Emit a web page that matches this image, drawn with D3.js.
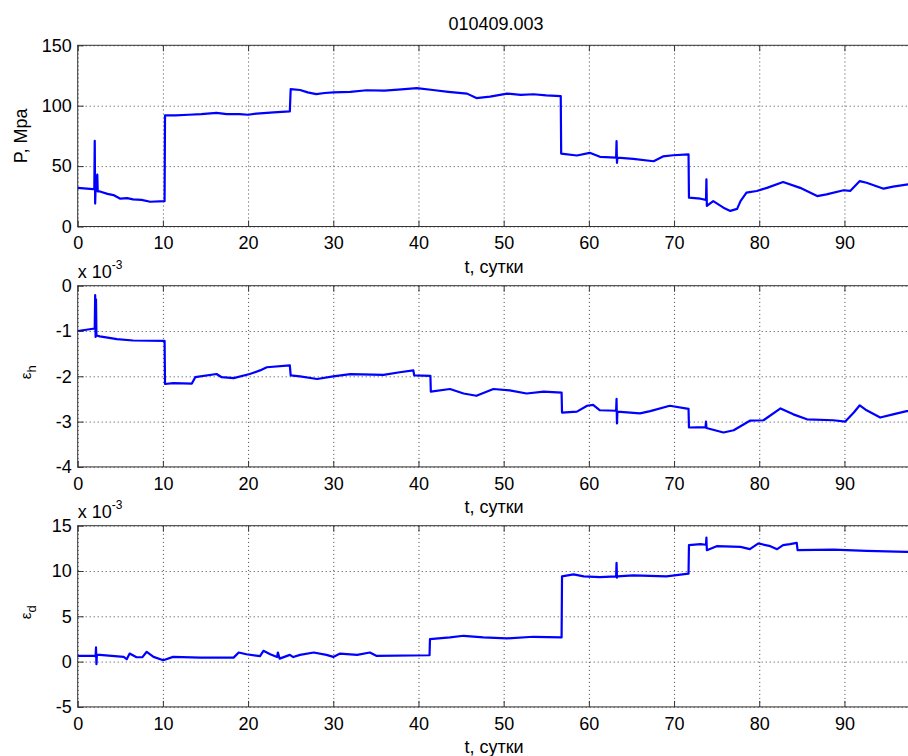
<!DOCTYPE html>
<html>
<head>
<meta charset="utf-8">
<script src="https://cdn.jsdelivr.net/npm/d3@7"></script>
<style>
  body { margin: 0; background: #fff; }
  svg { display: block; font-family: "Liberation Sans", Arial, sans-serif; }
  .tick text { font-size: 18px; fill: #000; }
  .grid line { stroke: #444; stroke-dasharray: 1,3; }
</style>
</head>
<body>
<svg id="fig"></svg>
<script>
// DATA (t in days)
const title = "010409.003";
const xTicks = [0, 10, 20, 30, 40, 50, 60, 70, 80, 90];
const pTicks = [0, 50, 100, 150];
const ehTicks = [-4, -3, -2, -1, 0];
const edTicks = [-5, 0, 5, 10, 15];

// P, MPa
const pressure = [
  [0, 32], [1.8, 31], [1.95, 31], [2.0, 71], [2.05, 19], [2.1, 31], [2.3, 43], [2.35, 29],
  [2.6, 29], [3.5, 27], [4.2, 26], [5, 23], [5.8, 23.5], [6.5, 22.5], [7.5, 22], [8.5, 20.5],
  [10.2, 21], [10.25, 92], [11.5, 92], [13, 92.5], [14.5, 93], [16.3, 94], [17.5, 93], [19, 93],
  [20, 92.5], [21, 93.5], [23, 94.5], [24.9, 95.3], [25.0, 113.7], [26.1, 113], [27, 111],
  [28, 109.6], [29, 110.5], [30, 111], [32, 111.5], [33.9, 112.8], [36, 112.5], [38, 113.5],
  [39.8, 114.5], [41.7, 113], [43.5, 111.5], [45.7, 110], [46.8, 106.3], [48.4, 107.5],
  [50.4, 110], [52, 109], [53.5, 109.5], [55, 108.5], [56.7, 108], [56.75, 60.4], [58.6, 58.8],
  [60.1, 61], [61.3, 57.7], [63.2, 57], [63.25, 70.6], [63.3, 52.7], [63.35, 57], [65.2, 56],
  [67.6, 54], [68.7, 58], [69.9, 59], [71.7, 59.7], [71.75, 23.9], [73.1, 23], [73.75, 22],
  [73.8, 39], [73.85, 17], [74.6, 21], [75.8, 15.6], [76.6, 12.9], [77.4, 14.6], [77.8, 21],
  [78.5, 28], [79.7, 29.4], [80.9, 32], [82.8, 36.8], [84.8, 32], [86.8, 25.2], [87.9, 26.6],
  [89.9, 30], [90.7, 29.5], [91.8, 37.6], [92.6, 36.2], [94.6, 31.3], [95.7, 33], [97.5, 35],
  [98.2, 34]
];

// eps_h, x 10^-3
const epsH = [
  [0, -1.0], [1.8, -0.95], [2.0, -0.95], [2.05, -0.21], [2.1, -1.13], [2.15, -0.3], [2.2, -1.1],
  [2.6, -1.12], [4.6, -1.18], [6.5, -1.21], [10.2, -1.22], [10.25, -2.17], [11.2, -2.15],
  [13.4, -2.16], [13.8, -2.02], [16.3, -1.95], [16.9, -2.02], [18.3, -2.04], [20.2, -1.95],
  [21.4, -1.87], [22.2, -1.8], [24.9, -1.76], [25.0, -1.98], [26.1, -2.0], [28.1, -2.06],
  [30, -2.0], [32, -1.95], [35.9, -1.97], [37.8, -1.91], [39.4, -1.87], [39.5, -1.98],
  [41.4, -1.99], [41.45, -2.34], [43.7, -2.28], [45.3, -2.38], [46.8, -2.43], [48.8, -2.28],
  [50.7, -2.31], [52.7, -2.38], [54.7, -2.34], [56.8, -2.36], [56.85, -2.8], [58.6, -2.78],
  [59.8, -2.65], [60.5, -2.63], [61.3, -2.75], [63.2, -2.76], [63.25, -2.5], [63.3, -3.04],
  [63.35, -2.78], [66, -2.82], [67.2, -2.77], [69.5, -2.65], [71.7, -2.72], [71.75, -3.13],
  [73.7, -3.12], [73.75, -3.0], [73.8, -3.14], [75.8, -3.24], [77, -3.19], [78.9, -2.98],
  [80.5, -2.97], [82.5, -2.71], [84, -2.84], [85.6, -2.95], [88.7, -2.97], [90.1, -3.0],
  [91.1, -2.8], [91.8, -2.64], [92.6, -2.75], [94.2, -2.91], [95.7, -2.84], [97.3, -2.77],
  [98.2, -2.76]
];

// eps_d, x 10^-3
const epsD = [
  [0, 0.63], [1.8, 0.63], [2.1, 0.6], [2.15, 1.56], [2.2, -0.29], [2.25, 0.74], [2.6, 0.74],
  [5.4, 0.52], [5.75, 0.26], [6.1, 0.89], [6.9, 0.48], [7.6, 0.5], [8.1, 1.08], [8.9, 0.52],
  [10.05, 0.15], [11.2, 0.52], [14.4, 0.44], [18.3, 0.44], [18.9, 1.0], [19.8, 0.81],
  [21.4, 0.6], [21.8, 1.19], [22.6, 0.81], [23.4, 0.5], [23.5, 1.0], [23.7, 0.33],
  [24.9, 0.74], [25.3, 0.5], [26.1, 0.74], [27.7, 1.0], [29.2, 0.74], [30, 0.52],
  [30.8, 0.89], [32.8, 0.74], [34.3, 1.0], [35.1, 0.63], [41.3, 0.7], [41.35, 2.48],
  [43.7, 2.67], [45.3, 2.85], [47.6, 2.67], [50.4, 2.56], [53.5, 2.74], [56.8, 2.67],
  [56.85, 9.41], [58.2, 9.63], [59.4, 9.41], [61.3, 9.33], [63.2, 9.41], [63.25, 10.89],
  [63.3, 9.26], [63.35, 9.41], [65.2, 9.52], [69.1, 9.41], [71.7, 9.71], [71.75, 12.86],
  [73.1, 12.97], [73.75, 12.9], [73.8, 13.7], [73.85, 12.3], [75, 12.74], [77.8, 12.67],
  [78.9, 12.41], [79.9, 13.04], [81.3, 12.74], [82.1, 12.41], [82.8, 12.86], [83.6, 12.97],
  [84.4, 13.11], [84.5, 12.3], [88.7, 12.37], [92.6, 12.22], [97.3, 12.11], [98.2, 12.1]
];

// LAYOUT
const width = 908, height = 756;
const left = 77.7, right = 914.3;
const tMax = 98.2;
const fmt = d => String(d);

const svg = d3.select('#fig')
  .attr('width', width)
  .attr('height', height);

svg.append('rect').attr('width', width).attr('height', height).attr('fill', '#fff');

const x = d3.scaleLinear().domain([0, tMax]).range([left, right]);

const panels = [
  {data: pressure, domain: [0, 150], ticks: pTicks, top: 45.3, label: 'P, Mpa', sub: null, scale: false},
  {data: epsH, domain: [-4, 0], ticks: ehTicks, top: 285.7, label: '\u03B5', sub: 'h', scale: true},
  {data: epsD, domain: [-5, 15], ticks: edTicks, top: 525.7, label: '\u03B5', sub: 'd', scale: true}
];
const ph = 181.2;

svg.append('text')
  .attr('x', (left + right) / 2)
  .attr('y', 30)
  .attr('text-anchor', 'middle')
  .style('font-size', '18px')
  .text(title);

panels.forEach(p => {
  const y = d3.scaleLinear().domain(p.domain).range([p.top + ph, p.top]);
  const g = svg.append('g');

  // grid
  g.append('g').attr('class', 'grid')
    .attr('transform', `translate(0,${p.top + ph})`)
    .call(d3.axisBottom(x).tickValues(xTicks).tickSize(-ph).tickFormat(''))
    .call(a => a.select('.domain').remove());
  g.append('g').attr('class', 'grid')
    .attr('transform', `translate(${left},0)`)
    .call(d3.axisLeft(y).tickValues(p.ticks).tickSize(-(right - left)).tickFormat(''))
    .call(a => a.select('.domain').remove());

  // line
  g.append('path')
    .datum(p.data)
    .attr('fill', 'none')
    .attr('stroke', '#0000ff')
    .attr('stroke-width', 2.2)
    .attr('stroke-linejoin', 'round')
    .attr('d', d3.line().x(d => x(d[0])).y(d => y(d[1])));

  // axes with inward ticks
  g.append('g')
    .attr('transform', `translate(0,${p.top + ph})`)
    .call(d3.axisBottom(x).tickValues(xTicks).tickFormat(fmt).tickSizeInner(-6).tickSizeOuter(0).tickPadding(10))
    .call(a => a.select('.domain').remove())
    .call(a => a.selectAll('.tick line').attr('stroke', '#333'));
  g.append('g')
    .attr('transform', `translate(0,${p.top})`)
    .call(d3.axisTop(x).tickValues(xTicks).tickSizeInner(-6).tickSizeOuter(0).tickFormat(''))
    .call(a => a.select('.domain').remove())
    .call(a => a.selectAll('.tick line').attr('stroke', '#333'));
  g.append('g')
    .attr('transform', `translate(${left},0)`)
    .call(d3.axisLeft(y).tickValues(p.ticks).tickFormat(fmt).tickSizeInner(-6).tickSizeOuter(0).tickPadding(6))
    .call(a => a.select('.domain').remove())
    .call(a => a.selectAll('.tick line').attr('stroke', '#333'));

  // box
  g.append('rect')
    .attr('x', left).attr('y', p.top)
    .attr('width', right - left).attr('height', ph)
    .attr('fill', 'none').attr('stroke', '#333').attr('stroke-width', 1);

  // x label
  g.append('text')
    .attr('x', (left + right) / 2 - 2)
    .attr('y', p.top + ph + 46)
    .attr('text-anchor', 'middle')
    .style('font-size', '18px')
    .text('t, сутки');

  // y label
  const yl = g.append('text')
    .attr('transform', `translate(${p.sub ? 31 : 27},${p.top + ph / 2 - (p.sub ? 4 : 0)}) rotate(-90)`)
    .attr('text-anchor', 'middle')
    .style('font-size', p.sub ? '15px' : '18px');
  yl.append('tspan').text(p.label);
  if (p.sub) {
    yl.append('tspan').attr('dy', 5).style('font-size', '13px').text(p.sub);
  }

  // exponent
  if (p.scale) {
    const ex = g.append('text')
      .attr('x', left)
      .attr('y', p.top - 8)
      .style('font-size', '18px');
    ex.append('tspan').text('x 10');
    ex.append('tspan').attr('dy', -9).style('font-size', '12px').text('-3');
  }
});
</script>
</body>
</html>
